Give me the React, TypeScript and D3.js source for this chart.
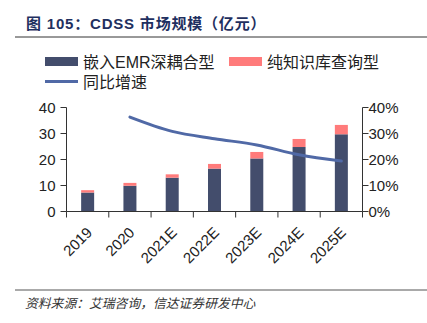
import React from "react";
import * as d3 from "d3";

const years = ["2019", "2020", "2021E", "2022E", "2023E", "2024E", "2025E"];
const embedded = [7.3, 9.9, 13.0, 16.5, 20.4, 24.8, 29.7];
const knowledge = [0.9, 1.1, 1.3, 1.8, 2.5, 3.1, 3.6];
const growthYears = ["2020", "2021E", "2022E", "2023E", "2024E", "2025E"];
const growth = [0.363, 0.308, 0.28, 0.256, 0.218, 0.194];
const leftTicks = [0, 10, 20, 30, 40];
const rightTicks = [0, 0.1, 0.2, 0.3, 0.4];

const W = 427;
const H = 323;
const DARK = "#434d6c";
const PINK = "#ff7b7b";
const LINE = "#5069a6";
const FONT = "'Liberation Sans', Arial, 'Noto Sans CJK SC', sans-serif";
const CJK = "'Liberation Sans', 'Noto Sans CJK SC', sans-serif";

export default function App() {
  const x0 = 66.5;
  const x1 = 362.5;
  const yTop = 107.5;
  const yBot = 211.5;
  const band = d3.scaleBand<string>().domain(years).range([x0, x1]);
  const yL = d3.scaleLinear().domain([0, 40]).range([yBot, yTop]);
  const yR = d3.scaleLinear().domain([0, 0.4]).range([yBot, yTop]);
  const cx = (k: string) => (band(k) as number) + band.bandwidth() / 2;
  const line = d3
    .line<number>()
    .x((_, i) => cx(growthYears[i]))
    .y((d) => yR(d))
    .curve(d3.curveMonotoneX);
  const bw = 13;
  const boundaries = years.map((k) => band(k) as number).concat([x1]);

  return (
    <svg width={W} height={H} style={{ position: "absolute", left: 0, top: 0, background: "#fff" }}>
      <rect width={W} height={H} fill="#fff" />
      <text x={26} y={29} fontFamily={CJK} fontSize={15} fontWeight="bold" letterSpacing={0.8} fill="#1f3060">
        图 105：CDSS 市场规模（亿元）
      </text>
      <line x1={15} x2={427} y1={37} y2={37} stroke="#333" strokeWidth={1} />

      {/* legend */}
      <rect x={45} y={57} width={33} height={9} fill={DARK} />
      <text x={83} y={67.5} fontFamily={CJK} fontSize={16} fill="#222">嵌入EMR深耦合型</text>
      <rect x={229} y={57} width={33} height={9} fill={PINK} />
      <text x={267} y={67.5} fontFamily={CJK} fontSize={16} fill="#222">纯知识库查询型</text>
      <line x1={45} x2={78} y1={81.5} y2={81.5} stroke={LINE} strokeWidth={3} />
      <text x={83} y={87.5} fontFamily={CJK} fontSize={16} fill="#222">同比增速</text>

      {/* bars */}
      {years.map((k, i) => {
        const bx = cx(k) - bw / 2;
        return (
          <g key={k}>
            <rect x={bx} y={yL(embedded[i])} width={bw} height={yBot - yL(embedded[i])} fill={DARK} />
            <rect
              x={bx}
              y={yL(embedded[i] + knowledge[i])}
              width={bw}
              height={yL(embedded[i]) - yL(embedded[i] + knowledge[i])}
              fill={PINK}
            />
          </g>
        );
      })}

      <path d={line(growth) || ""} fill="none" stroke={LINE} strokeWidth={3} strokeLinecap="round" />

      {/* left axis */}
      <line x1={x0} x2={x0} y1={yTop} y2={yBot} stroke="#333" />
      {leftTicks.map((t) => (
        <g key={t}>
          <line x1={x0 - 6} x2={x0} y1={yL(t)} y2={yL(t)} stroke="#333" />
          <text x={x0 - 11} y={yL(t)} dy="0.36em" textAnchor="end" fontFamily={FONT} fontSize={15} fill="#222">
            {t}
          </text>
        </g>
      ))}
      {/* right axis */}
      <line x1={x1} x2={x1} y1={yTop} y2={yBot} stroke="#333" />
      {rightTicks.map((t) => (
        <g key={t}>
          <line x1={x1} x2={x1 + 6} y1={yR(t)} y2={yR(t)} stroke="#333" />
          <text x={x1 + 6} y={yR(t)} dy="0.36em" textAnchor="start" fontFamily={FONT} fontSize={15} fill="#222">
            {d3.format(".0%")(t)}
          </text>
        </g>
      ))}
      {/* x axis */}
      <line x1={x0} x2={x1} y1={yBot} y2={yBot} stroke="#333" />
      {boundaries.map((b, i) => (
        <line key={i} x1={b} x2={b} y1={yBot} y2={yBot + 6} stroke="#333" />
      ))}
      {years.map((k) => (
        <text
          key={k}
          transform={`translate(${cx(k) + 5.5},${yBot + 22}) rotate(-45)`}
          textAnchor="end"
          fontFamily={FONT}
          fontSize={15}
          fill="#222"
        >
          {k}
        </text>
      ))}

      <line x1={15} x2={427} y1={290} y2={290} stroke="#555" strokeWidth={1} />
      <text x={25} y={308} fontFamily={CJK} fontSize={12.8} fontStyle="italic" fill="#333">
        资料来源：艾瑞咨询，信达证券研发中心
      </text>
    </svg>
  );
}
